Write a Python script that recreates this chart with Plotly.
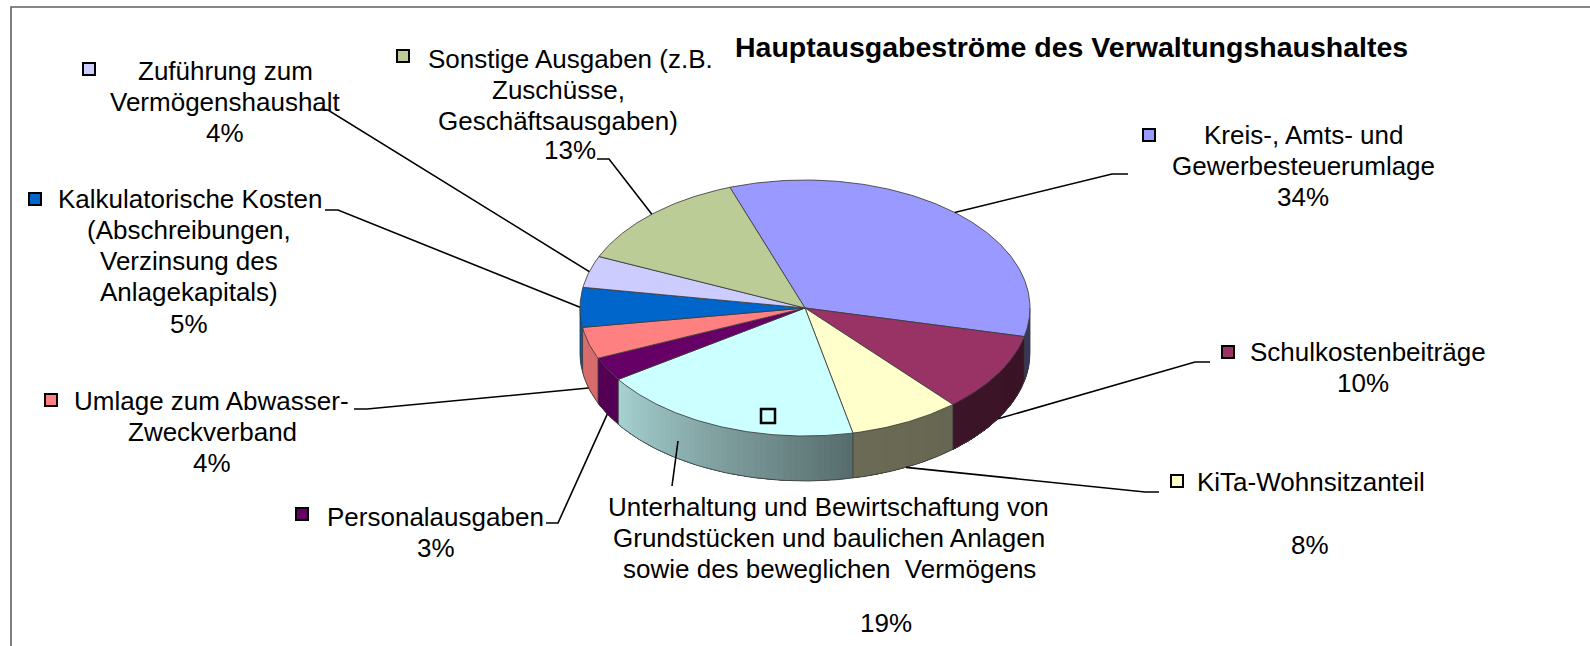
import numpy as np
import plotly.graph_objects as go

# ---------------- data ----------------
categories = [
    "Kreis-, Amts- und Gewerbesteuerumlage",
    "Schulkostenbeiträge",
    "KiTa-Wohnsitzanteil",
    "Unterhaltung und Bewirtschaftung von Grundstücken und baulichen Anlagen sowie des beweglichen  Vermögens",
    "Personalausgaben",
    "Umlage zum Abwasser-Zweckverband",
    "Kalkulatorische Kosten (Abschreibungen, Verzinsung des Anlagekapitals)",
    "Zuführung zum Vermögenshaushalt",
    "Sonstige Ausgaben (z.B. Zuschüsse, Geschäftsausgaben)",
]
values = [34, 10, 8, 19, 3, 4, 5, 4, 13]
label_lines = [
    ["Kreis-, Amts- und", "Gewerbesteuerumlage"],
    ["Schulkostenbeiträge"],
    ["KiTa-Wohnsitzanteil"],
    ["Unterhaltung und Bewirtschaftung von", "Grundstücken und baulichen Anlagen",
     "sowie des beweglichen \u00a0Vermögens"],
    ["Personalausgaben"],
    ["Umlage zum Abwasser-", "Zweckverband"],
    ["Kalkulatorische Kosten", "(Abschreibungen,", "Verzinsung des", "Anlagekapitals)"],
    ["Zuführung zum", "Vermögenshaushalt"],
    ["Sonstige Ausgaben (z.B.", "Zuschüsse,", "Geschäftsausgaben)"],
]
colors = ["#9999FF", "#993366", "#FFFFCC", "#CCFFFF", "#660066",
          "#FF8080", "#0066CC", "#CCCCFF", "#BBCC96"]
title = "Hauptausgabeströme des Verwaltungshaushaltes"

# ---------------- layout / geometry ----------------
W, H = 1590, 646
CX, CY, RX, RY, DEPTH = 805, 308, 225, 128, 45
START = -19.5
FONT = "Arial, 'Liberation Sans', sans-serif"
FS = 26
LINE_H = 31

key_pos = [(1149, 135), (1228, 352), (1177, 481), (768, 416), (302, 514),
           (51, 400), (35, 199), (89, 69), (403, 56)]
line1_x = [1303, 1368, 1311, 828, 435, 211, 190, 225, 570]
rest_x = [1303, None, None, 829, None, 212, 189, 225, 558]
first_y = [135, 352, 482, 507, 517, 401, 199, 71, 59]
pct_pos = [(1303, 197), (1363, 383), (1310, 545), (886, 623), (436, 548),
           (212, 463), (189, 324), (225, 133), (570, 150)]
# label-side part of each leader line: elbow, end
leader_tail = [[(1112, 174), (1128, 174)], [(1195, 362), (1210, 362)],
               [(1145, 492), (1159, 492)], None, [(558, 523), (546, 523)],
               [(367, 409), (354, 409)], [(338, 210), (325, 210)],
               [(328, 110), (318, 110)], [(609, 159), (597, 159)]]
leader_override = {3: [(678, 441), (672, 486)]}


def pt(t, dy=0.0):
    r = np.radians(t)
    return CX + RX * np.sin(r), CY - RY * np.cos(r) + dy


def shade(hexc, f):
    h = hexc.lstrip("#")
    r, g, b = (int(h[i:i + 2], 16) for i in (0, 2, 4))
    return "rgb(%d,%d,%d)" % (round(r * f), round(g * f), round(b * f))


def side_factor(t):
    return float(np.interp(t, [90, 140, 167, 236, 270], [0.36, 0.40, 0.42, 0.82, 0.87]))


total = sum(values)
bounds = START + 360.0 * np.concatenate([[0], np.cumsum(values)]) / total

fig = go.Figure()

# ---- side faces (front half), drawn as overlapping shaded strips ----
for i, v in enumerate(values):
    a, b = bounds[i], bounds[i + 1]
    lo, hi = max(a, 90), min(b, 270)
    if lo >= hi:
        continue
    n = int(np.ceil((hi - lo) / 1.5))
    edges = np.linspace(lo, hi, n + 1)
    for k in range(n):
        s0 = edges[k]
        ts = np.linspace(s0, hi, max(4, int((hi - s0) * 1.5)))
        xt, yt = pt(ts)
        xb, yb = pt(ts[::-1], DEPTH)
        c = shade(colors[i], side_factor((edges[k] + edges[k + 1]) / 2))
        fig.add_trace(go.Scatter(
            x=list(xt) + list(xb), y=list(yt) + list(yb), mode="lines",
            fill="toself", fillcolor=c, line=dict(color=c, width=0),
            hoverinfo="skip", showlegend=False))

# side outlines
ts = np.linspace(90, 270, 200)
xb, yb = pt(ts, DEPTH)
ox, oy = list(xb), list(yb)
for t in [90, 270] + [bb for bb in bounds if 90 < bb < 270]:
    x0, y0 = pt(t)
    x1, y1 = pt(t, DEPTH)
    ox += [None, x0, x1]
    oy += [None, y0, y1]
fig.add_trace(go.Scatter(x=ox, y=oy, mode="lines",
                         line=dict(color="rgba(60,60,60,0.85)", width=1),
                         hoverinfo="skip", showlegend=False))

# ---- top faces ----
for i, v in enumerate(values):
    a, b = bounds[i], bounds[i + 1]
    ts = np.linspace(a, b, max(8, int((b - a) * 1.5)))
    xt, yt = pt(ts)
    fig.add_trace(go.Scatter(
        x=[CX] + list(xt) + [CX], y=[CY] + list(yt) + [CY], mode="lines",
        fill="toself", fillcolor=colors[i],
        line=dict(color="rgba(60,60,60,0.85)", width=1),
        name=categories[i], hoverinfo="skip", showlegend=False))

# ---- leader lines ----
for i, v in enumerate(values):
    if i in leader_override:
        pts = leader_override[i]
    else:
        mid = (bounds[i] + bounds[i + 1]) / 2
        dy = DEPTH if np.cos(np.radians(mid)) < 0 else 0
        ex, ey = pt(mid, dy)
        pts = [(ex, ey)] + leader_tail[i]
    fig.add_trace(go.Scatter(x=[p[0] for p in pts], y=[p[1] for p in pts],
                             mode="lines", line=dict(color="black", width=1.6),
                             hoverinfo="skip", showlegend=False))

# ---- legend keys ----
for i in range(len(values)):
    kx, ky = key_pos[i]
    big = i == 3
    fig.add_trace(go.Scatter(
        x=[kx], y=[ky], mode="markers",
        marker=dict(symbol="square", size=14 if big else 12, color=colors[i],
                    line=dict(color="black", width=2.5 if big else 2)),
        hoverinfo="skip", showlegend=False))

# ---- text labels ----
ann = []
for i, v in enumerate(values):
    for j, line in enumerate(label_lines[i]):
        x = line1_x[i] if j == 0 else rest_x[i]
        ann.append(dict(x=x, y=first_y[i] + j * LINE_H, text=line, showarrow=False,
                        xanchor="center", yanchor="middle",
                        font=dict(family=FONT, size=FS, color="black")))
    px, py = pct_pos[i]
    ann.append(dict(x=px, y=py, text=f"{v}%", showarrow=False,
                    xanchor="center", yanchor="middle",
                    font=dict(family=FONT, size=FS, color="black")))

ann.append(dict(x=1071, y=47, text=f"<b>{title}</b>", showarrow=False,
                xanchor="center", yanchor="middle",
                font=dict(family=FONT, size=28.5, color="black")))

fig.update_layout(
    width=W, height=H, margin=dict(l=0, r=0, t=0, b=0),
    paper_bgcolor="white", plot_bgcolor="white",
    xaxis=dict(range=[0, W], visible=False, fixedrange=True),
    yaxis=dict(range=[H, 0], visible=False, fixedrange=True),
    annotations=ann,
    shapes=[dict(type="rect", xref="x", yref="y", x0=11, y0=7, x1=W + 20, y1=H + 20,
                 line=dict(color="#606060", width=1.6), fillcolor="rgba(0,0,0,0)",
                 layer="below")],
    showlegend=False,
)

fig.write_html("out.html", config={"displayModeBar": False},
               post_script="document.body.style.margin='0';document.body.style.overflow='hidden';")
